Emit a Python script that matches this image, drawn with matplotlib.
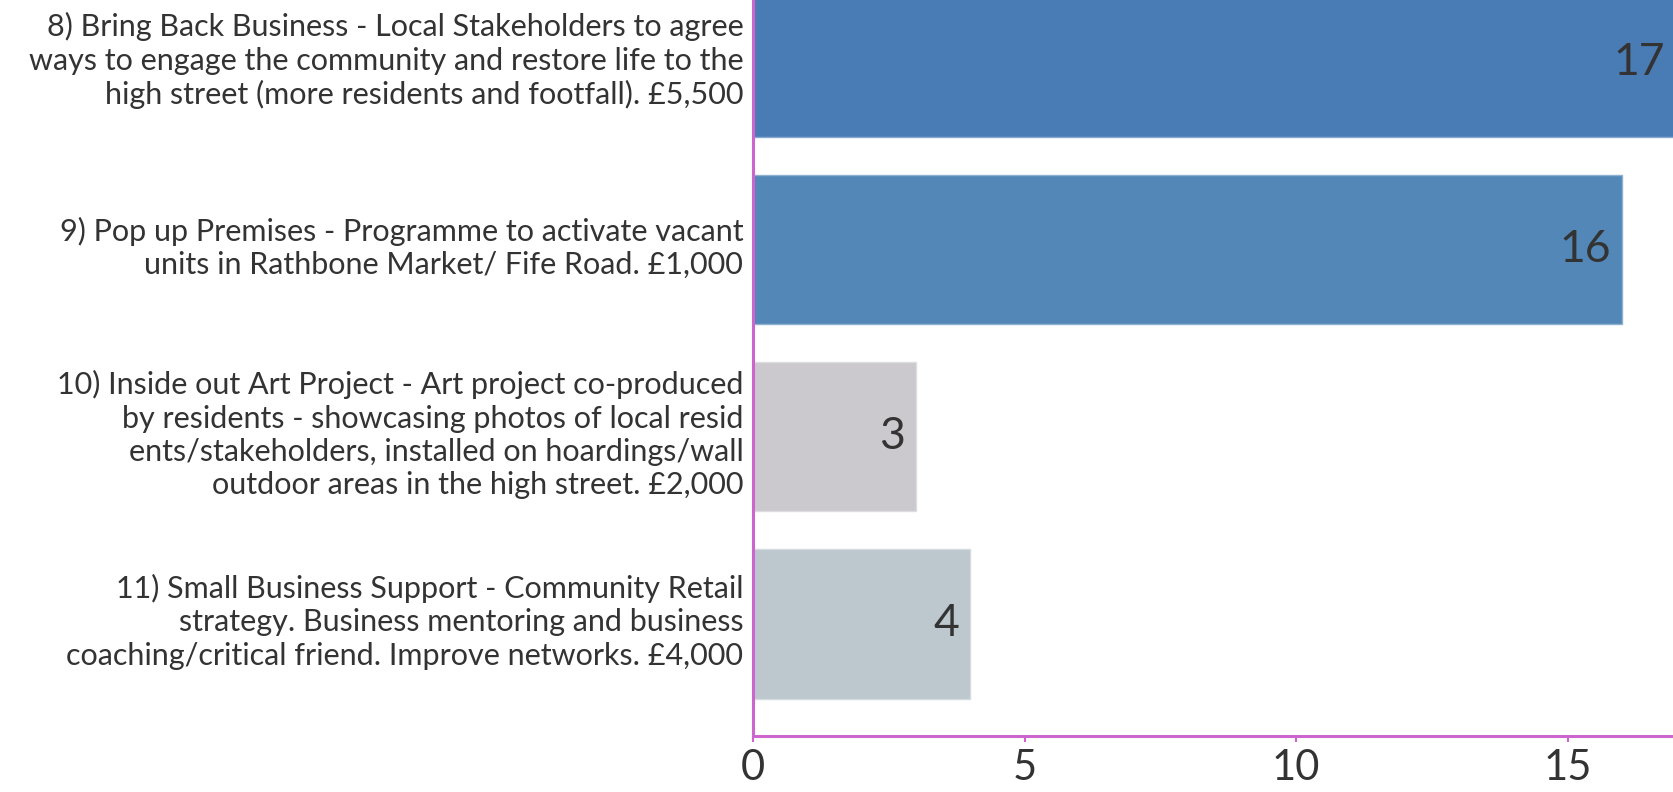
import matplotlib
matplotlib.use("Agg")
import matplotlib.pyplot as plt
from matplotlib.colors import to_rgb
from matplotlib.transforms import ScaledTranslation

categories = [
    "8) Bring Back Business - Local Stakeholders to agree\nways to engage the community and restore life to the\nhigh street (more residents and footfall). £5,500",
    "9) Pop up Premises - Programme to activate vacant\nunits in Rathbone Market/ Fife Road. £1,000",
    "10) Inside out Art Project - Art project co-produced\nby residents - showcasing photos of local resid\nents/stakeholders, installed on hoardings/wall\noutdoor areas in the high street. £2,000",
    "11) Small Business Support - Community Retail\nstrategy. Business mentoring and business\ncoaching/critical friend. Improve networks. £4,000",
]
values = [17, 16, 3, 4]
bar_colors = ["#497CB5", "#5287B7", "#CBC9CD", "#BCC7CE"]
xticks = [0, 5, 10, 15]

plt.rcParams['font.family'] = ['Lato', 'DejaVu Sans']

W, H = 1673, 792
fig = plt.figure(figsize=(W / 100, H / 100), dpi=100)
x0 = 753 / W
ax = fig.add_axes([x0, 56 / H, 1 - x0, 736 / H])

def lighten(c, f=0.35):
    r, g, b = to_rgb(c)
    return (r + (1 - r) * f, g + (1 - g) * f, b + (1 - b) * f)

ypos = list(range(len(values)))
bars = ax.barh(ypos, values, height=0.8, color=bar_colors,
               edgecolor=[lighten(c) for c in bar_colors], linewidth=1.0)

ax.set_xlim(0, 16.94)
ax.set_ylim(3.6, -0.334)

for yv, v in zip(ypos, values):
    ax.annotate(str(v), xy=(v, yv), xytext=(-8, 0), textcoords='offset points',
                ha='right', va='center', fontsize=32, color='#333333',
                annotation_clip=False)

axis_col = '#CC66CC'
for s in ['top', 'right']:
    ax.spines[s].set_visible(False)
for s in ['left', 'bottom']:
    ax.spines[s].set_color(axis_col)
    ax.spines[s].set_linewidth(2.2)

ax.set_yticks(ypos)
ax.set_yticklabels(categories, fontsize=22.0, color='#333333', linespacing=1.23)
ax.tick_params(axis='y', length=0, pad=7)
shift = ScaledTranslation(0, 7 / 100, fig.dpi_scale_trans)
for lab in ax.get_yticklabels():
    lab.set_transform(lab.get_transform() + shift)
ax.set_xticks(xticks)
ax.set_xticklabels([str(t) for t in xticks])
ax.tick_params(axis='x', length=4.5, width=1.5, color=axis_col, labelsize=30,
               labelcolor='#333333', pad=5)

fig.savefig('out.png', dpi=100)
